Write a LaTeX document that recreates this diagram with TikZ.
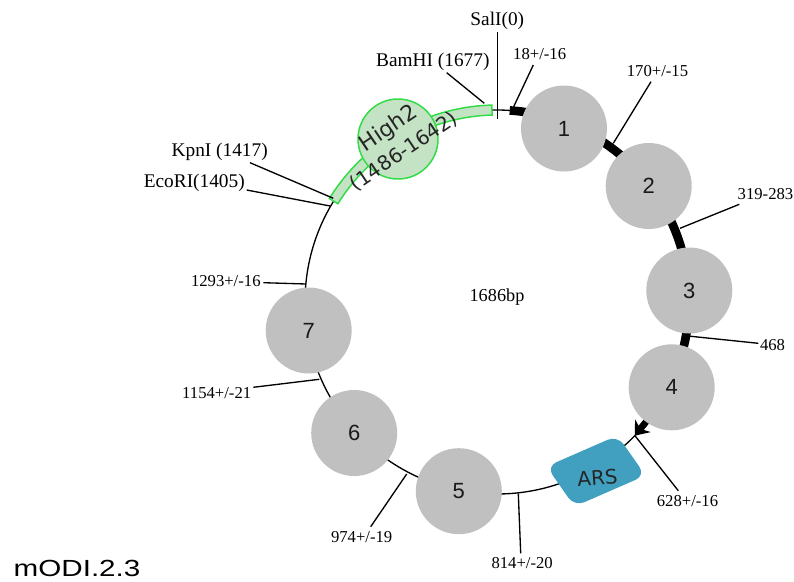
\documentclass[tikz,border=0pt]{standalone}
\usepackage{fontspec}
\setmainfont{Liberation Serif}
\newfontfamily\arialf{Liberation Sans}
\newfontfamily\comicf{DejaVu Sans}
\usetikzlibrary{arrows.meta}
\definecolor{graybead}{RGB}{192,192,192}
\definecolor{hifill}{RGB}{196,226,196}
\definecolor{hiedge}{RGB}{50,220,70}
\definecolor{arsblue}{RGB}{65,160,192}
\begin{document}
\begin{tikzpicture}[x=0.75pt,y=-0.75pt,
  backbone/.style={line width=1pt},
  leader/.style={line width=1pt},
  thickseg/.style={line width=6.5pt},
  bead/.style={circle, fill=graybead, minimum size=64.5pt, inner sep=0pt, text=black!90, font=\arialf\fontsize{16.5}{16.5}\selectfont},
  enz/.style={font=\fontsize{14.5}{15}\selectfont, inner sep=0pt, anchor=base},
  posl/.style={font=\fontsize{12.5}{13}\selectfont, inner sep=0pt, anchor=base},
]
\useasboundingbox (0,0) rectangle (794,582);

% backbone
\draw[backbone] (497,302) circle[radius=144pt];

% High2 band
\filldraw[fill=hifill, draw=hiedge, line width=1.1pt]
  plot[domain=301.7:358.5, samples=40] ({497+197*sin(\x)},{302-197*cos(\x)})
  -- plot[domain=358.5:301.7, samples=40] ({497+187*sin(\x)},{302-187*cos(\x)}) -- cycle;

% thick segments
\draw[thickseg] plot[domain=3.8:12, samples=8] ({497+192*sin(\x)},{302-192*cos(\x)});
\draw[thickseg] plot[domain=30:44, samples=8] ({497+192*sin(\x)},{302-192*cos(\x)});
\draw[thickseg] plot[domain=60:78, samples=8] ({497+192*sin(\x)},{302-192*cos(\x)});
\draw[thickseg] plot[domain=98:105, samples=6] ({497+192*sin(\x)},{302-192*cos(\x)});

% arrow at 628
\coordinate (ar1) at ({497+192*sin(124)},{302-192*cos(124)});
\coordinate (ar2) at ({497+192*sin(134.1)},{302-192*cos(134.1)});
\draw[line width=5pt, -{Stealth[length=9.5pt,width=15pt,inset=3pt]}] (ar1) -- (ar2);

% beads
\node[bead] (c1) at (564,128.5) {1};
\node[bead] (c2) at (648.7,186) {2};
\node[bead] (c3) at (689.3,290.5) {3};
\node[bead] (c4) at (671.7,387.3) {4};
\node[bead] (c5) at (458.8,491.2) {5};
\node[bead] (c6) at (354.2,433) {6};
\node[bead] (c7) at (308.7,330.5) {7};

% ARS box (slanted, rounded)
\coordinate (arsT) at (617.5,435.5);
\coordinate (arsR) at (645.5,475.5);
\coordinate (arsB) at (574.5,506.5);
\coordinate (arsL) at (546.5,466.5);
\fill[arsblue, rounded corners=8pt] (arsL) -- (arsT) -- (arsR) -- (arsB) -- cycle;
\node[rotate=4, font=\comicf\fontsize{15}{15}\selectfont, text=black!85] (ars) at (597.5,477.5) {ARS};

% High2
\node[circle, fill=hifill, draw=hiedge, line width=1.1pt, minimum size=60pt, inner sep=0pt] (hi) at (398,139) {};
\node[rotate=34, font=\comicf\fontsize{15}{20.5}\selectfont, align=center, text=black!85] (hit) at (396,139.5) {{\fontsize{16.5}{20.5}\selectfont High2}\\(1486-1642)};

% labels and leaders
\node[enz] (lsal) at (497.3,25) {SalI(0)};
\coordinate (sal1) at (497.6,32);
\coordinate (sal2) at (497.6,119);
\draw[leader] (sal1) -- (sal2);

\node[enz] (lbam) at (432.8,66.7) {BamHI (1677)};
\coordinate (bam1) at (484.3,103.3);
\coordinate (bam2) at (446.7,72.7);
\draw[leader] (bam1) -- (bam2);

\node[posl] (l18) at (539.7,59.3) {18+/-16};
\coordinate (t18a) at (513.3,107.5);
\coordinate (t18b) at (533.3,65);
\draw[leader] (t18a) -- (t18b);

\node[posl] (l170) at (657.5,76) {170+/-15};
\coordinate (t170a) at (613.3,143.3);
\coordinate (t170b) at (651,81.7);
\draw[leader] (t170a) -- (t170b);

\node[posl] (l319) at (765.5,199) {319-283};
\coordinate (t319a) at (680,228.3);
\coordinate (t319b) at (739.3,204.3);
\draw[leader] (t319a) -- (t319b);

\node[posl] (l468) at (772.5,350) {468};
\coordinate (t468a) at (688,336);
\coordinate (t468b) at (758.3,343.3);
\draw[leader] (t468a) -- (t468b);

\node[posl] (l628) at (687.5,506.7) {628+/-16};
\draw[leader] (ar2) -- (678.3,490.7) coordinate (t628b);

\node[posl] (l814) at (522.2,568.3) {814+/-20};
\coordinate (t814a) at (518.3,493.5);
\coordinate (t814b) at (520.7,553.3);
\draw[leader] (t814a) -- (t814b);

\node[posl] (l974) at (361.7,542.7) {974+/-19};
\coordinate (t974a) at (406.7,474);
\coordinate (t974b) at (370.7,526.7);
\draw[leader] (t974a) -- (t974b);

\node[posl] (l1154) at (216.7,398.3) {1154+/-21};
\coordinate (t1154a) at (319.3,379.3);
\coordinate (t1154b) at (253.3,387.3);
\draw[leader] (t1154a) -- (t1154b);

\node[posl] (l1293) at (225.8,286.7) {1293+/-16};
\coordinate (t1293a) at (306,284);
\coordinate (t1293b) at (263.3,282.7);
\draw[leader] (t1293a) -- (t1293b);

\node[enz, anchor=base east] (leco) at (245,187.3) {EcoRI(1405)};
\coordinate (ecoa) at (330,206);
\coordinate (ecob) at (246.7,190);
\draw[leader] (ecoa) -- (ecob);

\node[enz] (lkpn) at (219.7,156.7) {KpnI (1417)};
\coordinate (kpna) at (333.3,198.3);
\coordinate (kpnb) at (250,162.7);
\draw[leader] (kpna) -- (kpnb);

\node[font=\fontsize{13.7}{14}\selectfont, inner sep=0pt] (size) at (497,297) {1686bp};

\node[font=\arialf\fontsize{17.5}{18}\selectfont, xscale=1.27, anchor=base west, inner sep=0pt] (title) at (13.3,576.7) {mODI.2.3};
\end{tikzpicture}
\end{document}
